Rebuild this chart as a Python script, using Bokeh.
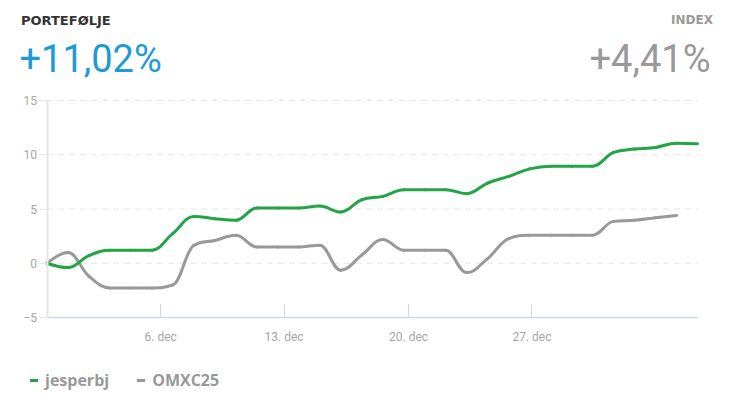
from bokeh.plotting import figure
from bokeh.models import (ColumnDataSource, FixedTicker, Label, Legend, LegendItem, Range1d)
from bokeh.embed import file_html
from bokeh.resources import INLINE

# ---- data (ordinal trading-point index on x) ----
portfolio = [0.0, -0.4, 0.7, 1.2, 1.2, 1.2, 2.75, 4.32, 4.1, 3.96, 5.09, 5.09, 5.09, 5.27,
             4.72, 5.85, 6.16, 6.78, 6.78, 6.78, 6.41, 7.39, 8.0, 8.7, 8.95, 8.95, 8.95,
             10.22, 10.52, 10.67, 11.07, 11.02]
omxc25 = [0.0, 0.98, -1.2, -2.27, -2.27, -2.27, -2.0, 1.65, 2.1, 2.58, 1.5, 1.5, 1.5, 1.66,
          -0.64, 0.75, 2.18, 1.2, 1.2, 1.2, -0.86, 0.43, 2.27, 2.58, 2.58, 2.58, 2.58,
          3.86, 3.96, 4.19, 4.41]
tick_index = [5.42, 11.30, 17.23, 23.11]
tick_labels = ["6. dec", "13. dec", "20. dec", "27. dec"]
y_ticks = [-5, 0, 5, 10, 15]
series_names = ["jesperbj", "OMXC25"]
header_left = ["PORTEFØLJE", "+11,02%"]
header_right = ["INDEX", "+4,41%"]

GREEN = "#22a447"
GRAY = "#999999"
BLUE = "#1d9ad9"


def spline_segments(ys):
    """Highcharts-style spline: cubic bezier control points from neighbouring points."""
    xs = list(range(len(ys)))
    n = len(xs)
    lc = [(x, y) for x, y in zip(xs, ys)]
    rc = list(lc)
    sm = 1.5
    den = sm + 1
    for i in range(1, n - 1):
        px, py = xs[i], ys[i]
        lx, ly = xs[i - 1], ys[i - 1]
        nx, ny = xs[i + 1], ys[i + 1]
        lcx = (sm * px + lx) / den
        lcy = (sm * py + ly) / den
        rcx = (sm * px + nx) / den
        rcy = (sm * py + ny) / den
        corr = (rcy - lcy) * (rcx - px) / (rcx - lcx) + py - rcy
        lcy += corr
        rcy += corr
        if lcy > ly and lcy > py:
            lcy = max(ly, py); rcy = 2 * py - lcy
        elif lcy < ly and lcy < py:
            lcy = min(ly, py); rcy = 2 * py - lcy
        if rcy > ny and rcy > py:
            rcy = max(ny, py); lcy = 2 * py - rcy
        elif rcy < ny and rcy < py:
            rcy = min(ny, py); lcy = 2 * py - rcy
        lc[i] = (lcx, lcy)
        rc[i] = (rcx, rcy)
    return dict(
        x0=xs[:-1], y0=ys[:-1], x1=xs[1:], y1=ys[1:],
        cx0=[rc[i][0] for i in range(n - 1)], cy0=[rc[i][1] for i in range(n - 1)],
        cx1=[lc[i + 1][0] for i in range(n - 1)], cy1=[lc[i + 1][1] for i in range(n - 1)],
    )


# ---- canvas layout (pixels); the frame covers the whole canvas ----
W, H = 730, 398
PLOT_L, PLOT_R, PLOT_T, PLOT_B = 46.5, 697.0, 100.0, 317.0
n_last = len(portfolio) - 1
px_x = (PLOT_R - PLOT_L) / n_last
px_y = (PLOT_B - PLOT_T) / (y_ticks[-1] - y_ticks[0])
x_range = Range1d(-PLOT_L / px_x, n_last + (W - PLOT_R) / px_x)
y_range = Range1d(y_ticks[0] - (H - PLOT_B) / px_y, y_ticks[-1] + PLOT_T / px_y)

p = figure(width=W, height=H, output_backend="svg", toolbar_location=None,
           x_range=x_range, y_range=y_range)
p.min_border_left = 0
p.min_border_right = 0
p.min_border_top = 0
p.min_border_bottom = 0
p.outline_line_color = None
p.grid.visible = False

# dashed horizontal grid, spanning the data's x extent
grid_src = ColumnDataSource(dict(y=y_ticks[1:], x0=[0] * (len(y_ticks) - 1),
                                 x1=[n_last] * (len(y_ticks) - 1)))
p.segment(x0="x0", x1="x1", y0="y", y1="y", source=grid_src,
          line_color="#e6e6e6", line_width=1, line_dash="6 5")

# y axis at the first point
p.yaxis.fixed_location = 0
p.yaxis.bounds = (y_ticks[0], y_ticks[-1])
p.yaxis.ticker = FixedTicker(ticks=y_ticks)
p.yaxis.axis_line_color = "#e6e6e6"
p.yaxis.axis_line_width = 2
p.yaxis.major_tick_line_color = "#e6e6e6"
p.yaxis.major_tick_out = 8
p.yaxis.major_tick_in = 0
p.yaxis.minor_tick_line_color = None
p.yaxis.major_label_standoff = 2
p.yaxis.major_label_text_font = "Roboto"
p.yaxis.major_label_text_font_size = "12px"
p.yaxis.major_label_text_color = "#a6a6a6"

# x axis at -5
p.xaxis.fixed_location = y_ticks[0]
p.xaxis.bounds = (0, n_last)
p.xaxis.ticker = FixedTicker(ticks=tick_index)
p.xaxis.major_label_overrides = {t: l for t, l in zip(tick_index, tick_labels)}
p.xaxis.axis_line_color = "#ccd6eb"
p.xaxis.axis_line_width = 1.5
p.xaxis.major_tick_line_color = "#ccd6eb"
p.xaxis.major_tick_in = 13
p.xaxis.major_tick_out = 0
p.xaxis.minor_tick_line_color = None
p.xaxis.major_label_standoff = 12
p.xaxis.major_label_text_font = "Roboto"
p.xaxis.major_label_text_font_size = "12px"
p.xaxis.major_label_text_color = "#a6a6a6"

r_idx = p.bezier(source=ColumnDataSource(spline_segments(omxc25)),
                 x0="x0", y0="y0", x1="x1", y1="y1", cx0="cx0", cy0="cy0", cx1="cx1", cy1="cy1",
                 line_color=GRAY, line_width=3, line_cap="round")
r_pf = p.bezier(source=ColumnDataSource(spline_segments(portfolio)),
                x0="x0", y0="y0", x1="x1", y1="y1", cx0="cx0", cy0="cy0", cx1="cx1", cy1="cy1",
                line_color=GREEN, line_width=3, line_cap="round")

legend = Legend(items=[LegendItem(label=series_names[0], renderers=[r_pf]),
                       LegendItem(label=series_names[1], renderers=[r_idx])],
                orientation="horizontal", location=(30, H - 391),
                glyph_width=8, glyph_height=20, label_height=20, label_standoff=7, spacing=28,
                padding=0, margin=0, border_line_alpha=0, background_fill_alpha=0,
                label_text_font="Open Sans", label_text_font_style="bold",
                label_text_font_size="16px", label_text_color="#999999")
p.add_layout(legend, "center")

# header texts (screen units from the canvas' bottom-left)
p.add_layout(Label(x=20.5, y=H - 19.5, x_units="screen", y_units="screen", text=header_left[0],
                   text_font="DejaVu Sans", text_font_style="bold", text_font_size="13px",
                   text_color="#333333", text_baseline="alphabetic"))
p.add_layout(Label(x=19, y=H - 58, x_units="screen", y_units="screen", text=header_left[1],
                   text_font="Roboto", text_font_size="38px",
                   text_color=BLUE, text_baseline="alphabetic"))
p.add_layout(Label(x=712.5, y=H - 19.5, x_units="screen", y_units="screen", text=header_right[0],
                   text_font="DejaVu Sans", text_font_style="bold", text_font_size="12px",
                   text_color="#999999", text_baseline="alphabetic", text_align="right"))
p.add_layout(Label(x=710, y=H - 58, x_units="screen", y_units="screen", text=header_right[1],
                   text_font="Roboto", text_font_size="38px",
                   text_color="#999999", text_baseline="alphabetic", text_align="right"))

open("out.html", "w").write(file_html(p, INLINE))
